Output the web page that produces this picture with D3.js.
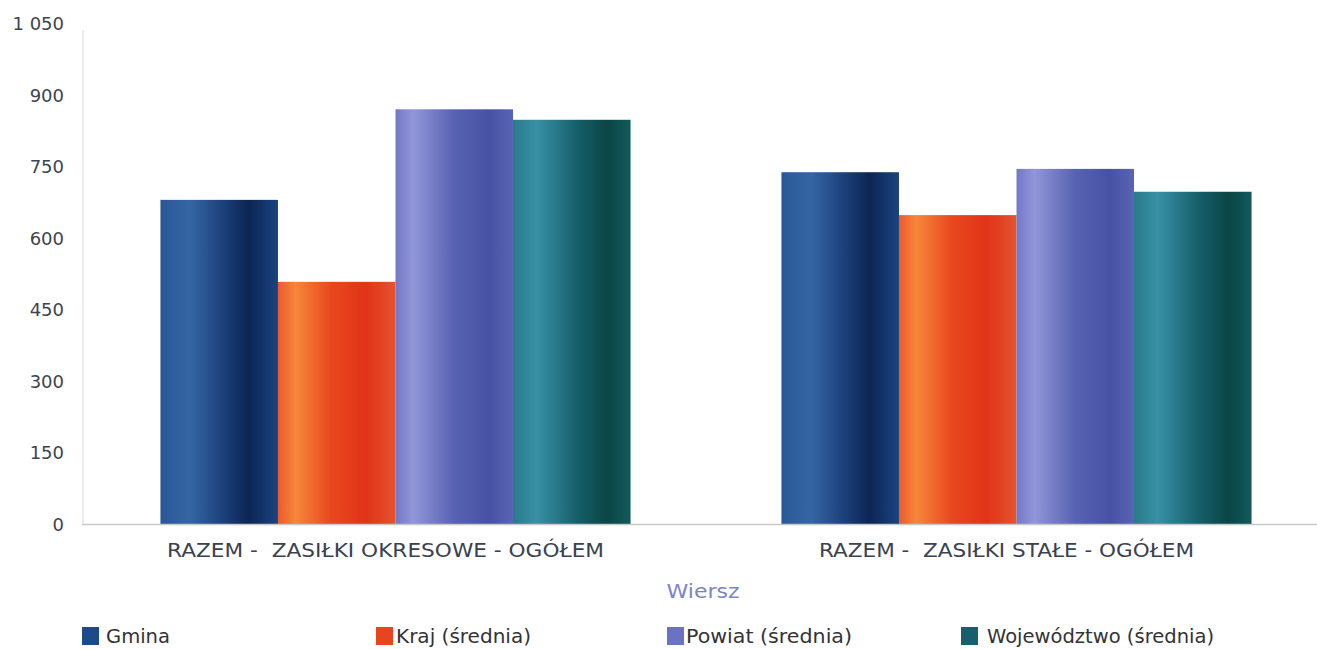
<!DOCTYPE html>
<html><head><meta charset="utf-8">
<script src="https://cdn.jsdelivr.net/npm/d3@7"></script>
<style>body{margin:0;background:#fff;}svg{display:block;font-family:"DejaVu Sans",sans-serif;}text{white-space:pre;}</style>
</head><body>
<svg id="c" width="1317" height="649"></svg>
<script>
const categories = ["RAZEM -  ZASIŁKI OKRESOWE - OGÓŁEM", "RAZEM -  ZASIŁKI STAŁE - OGÓŁEM"];
const seriesNames = ["Gmina", "Kraj (średnia)", "Powiat (średnia)", "Województwo (średnia)"];
const gmina = [680, 738];
const kraj = [508, 648];
const powiat = [870, 745];
const wojewodztwo = [848, 697];
const yTicks = [0, 150, 300, 450, 600, 750, 900, 1050];
const xTitle = "Wiersz";

const seriesValues = [gmina, kraj, powiat, wojewodztwo];
const gradStops = [
  [["0%","#2a5896"],["25%","#3566a4"],["55%","#1a3e78"],["75%","#0c2554"],["100%","#1a4480"]],
  [["0%","#ec5a2e"],["15%","#f6863a"],["45%","#e9481f"],["75%","#e03418"],["100%","#e4542e"]],
  [["0%","#7278c8"],["15%","#9196d8"],["50%","#5862b2"],["80%","#4852a4"],["100%","#5a64b4"]],
  [["0%","#2a7a8a"],["20%","#3890a6"],["55%","#165f6a"],["80%","#0b4546"],["100%","#125a5c"]]
];
const legendSwatch = ["#1d4a8a","#e8441e","#6a72c4","#16606e"];

const svg = d3.select("#c");
const defs = svg.append("defs");
gradStops.forEach((st,i)=>{
  const g = defs.append("linearGradient").attr("id","g"+i).attr("x1","0%").attr("x2","100%").attr("y1","0%").attr("y2","0%");
  st.forEach(s=>g.append("stop").attr("offset",s[0]).attr("stop-color",s[1]));
});

const y = d3.scaleLinear().domain([0,1050]).range([524, 23.5]);
const x0 = d3.scaleBand().domain(categories).range([85,1327]).paddingInner(0.243).paddingOuter(0.1215);
const x1 = d3.scaleBand().domain(d3.range(seriesNames.length)).range([0, x0.bandwidth()]);

svg.append("line").attr("x1",83).attr("x2",83).attr("y1",30).attr("y2",524).attr("stroke","#e6e6e6").attr("stroke-width",1.5);

const yAxis = d3.axisLeft(y).tickValues(yTicks).tickSize(0).tickPadding(0)
  .tickFormat(d=>d3.format(",")(d).replace(",", " "));
const ya = svg.append("g").attr("transform","translate(64,0)").call(yAxis);
ya.select(".domain").remove();
ya.selectAll("text").attr("font-size",18).attr("fill","#3d4450").attr("font-family","'DejaVu Sans',sans-serif").attr("dy","0.36em");

categories.forEach((c,ci)=>{
  seriesValues.forEach((vals,si)=>{
    svg.append("rect")
      .attr("x", x0(c)+x1(si))
      .attr("y", y(vals[ci]))
      .attr("width", x1.bandwidth())
      .attr("height", y(0)-y(vals[ci]))
      .attr("fill","url(#g"+si+")");
  });
});

svg.append("line").attr("x1",82).attr("x2",1317).attr("y1",524.5).attr("y2",524.5).attr("stroke","#c8c8c8").attr("stroke-width",1.5);

const xAxis = d3.axisBottom(x0).tickSize(0).tickPadding(0);
const xa = svg.append("g").attr("transform","translate(-10,557)").call(xAxis);
xa.select(".domain").remove();
xa.selectAll("text").attr("font-size",19.5).attr("fill","#3a4250").attr("dy","0").attr("font-family","'DejaVu Sans',sans-serif")
  .attr("textLength",(d,i)=>i===0?437:375).attr("lengthAdjust","spacingAndGlyphs");

svg.append("text").attr("x",703).attr("y",598).attr("text-anchor","middle").attr("font-size",20).attr("fill","#7f84c6")
  .attr("textLength",73).attr("lengthAdjust","spacingAndGlyphs").text(xTitle);

const legX = [82, 376, 667, 961];
const legTX = [106, 396, 686, 987];
const legW = [64, 135, 166, 227];
seriesNames.forEach((n,i)=>{
  svg.append("rect").attr("x",legX[i]).attr("y",627).attr("width",17).attr("height",18).attr("fill",legendSwatch[i]);
  svg.append("text").attr("x",legTX[i]).attr("y",643).attr("font-size",19.5).attr("fill","#333")
    .attr("textLength",legW[i]).attr("lengthAdjust","spacingAndGlyphs").text(n);
});
</script>
</body></html>
